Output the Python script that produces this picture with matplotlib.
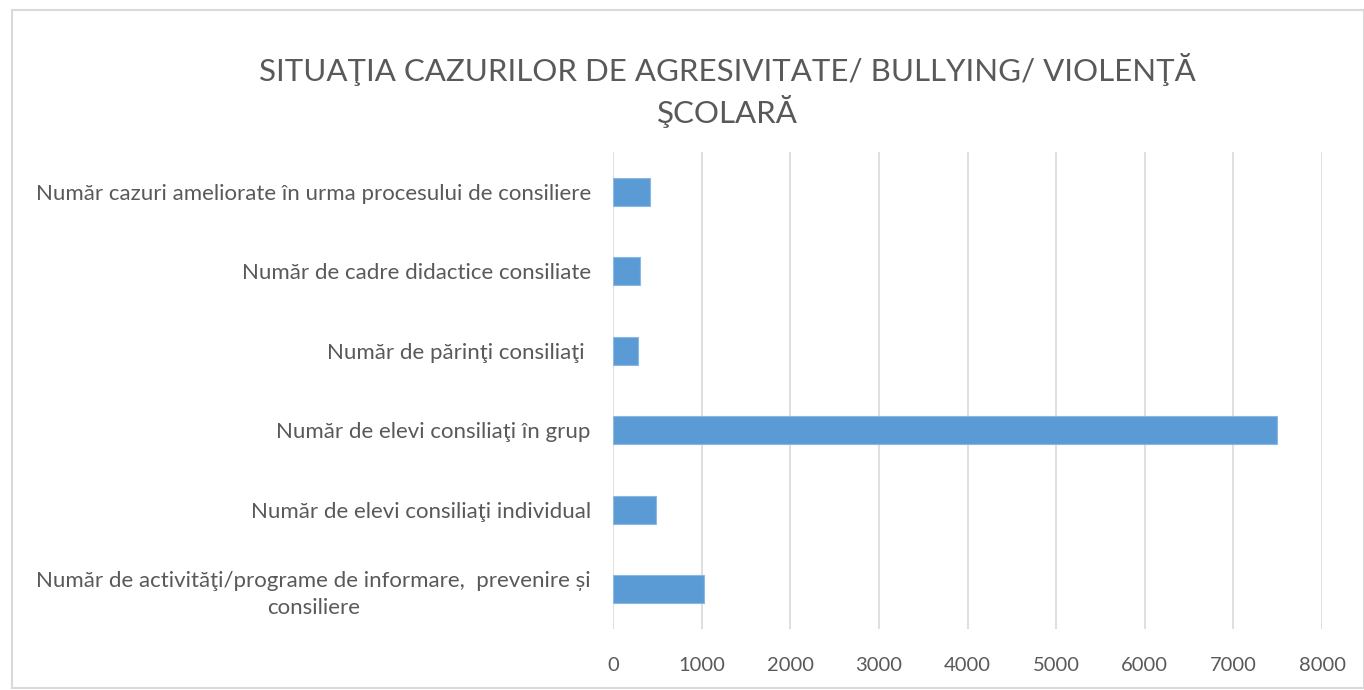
import matplotlib
matplotlib.use("Agg")
import matplotlib.pyplot as plt
from matplotlib.patches import Rectangle

categories = [
    "Număr de activităţi/programe de informare,  prevenire și\nconsiliere",
    "Număr de elevi consiliaţi individual",
    "Număr de elevi consiliaţi în grup",
    "Număr de părinţi consiliaţi ",
    "Număr de cadre didactice consiliate",
    "Număr cazuri ameliorate în urma procesului de consiliere",
]
values = [1030, 480, 7490, 280, 310, 420]
xticks = [0, 1000, 2000, 3000, 4000, 5000, 6000, 7000, 8000]

plt.rcParams['font.family'] = ['Lato', 'DejaVu Sans']
W, H = 1364, 690
fig = plt.figure(figsize=(W/100, H/100), dpi=100)
fig.patches.append(Rectangle((12/W, 2/H), (W-12)/W, (H-12)/H, transform=fig.transFigure,
                             fill=False, edgecolor='#d9d9d9', linewidth=1.5))
ax = fig.add_axes([613/W, 1-629/H, (1322-613)/W, (629-152)/H])
y = list(range(len(categories)))
ax.barh(y, values, height=0.35, color='#5b9bd5', edgecolor='#8ab8e3', linewidth=0.8, zorder=3)
ax.set_xlim(0, 8000)
ax.set_ylim(-0.5, len(categories)-0.5)
ax.set_xticks(xticks)
ax.set_xticklabels([str(t) for t in xticks])
ax.set_yticks(y)
ax.set_yticklabels(categories, multialignment='center', linespacing=1.45)
ax.grid(axis='x', color='#d9d9d9', linewidth=1.2, zorder=0)
for s in ax.spines.values():
    s.set_visible(False)
ax.tick_params(axis='both', length=0, colors='#595959')
ax.tick_params(axis='x', pad=20, labelsize=14.5)
ax.tick_params(axis='y', pad=16, labelsize=16)
fig.text(727/W, 1-70/H, "SITUAŢIA CAZURILOR DE AGRESIVITATE/ BULLYING/ VIOLENŢĂ",
         ha='center', va='center', fontsize=22.5, color='#595959')
fig.text(727/W, 1-111/H, "ŞCOLARĂ", ha='center', va='center', fontsize=22.5, color='#595959')
fig.savefig("out.png", dpi=100)
